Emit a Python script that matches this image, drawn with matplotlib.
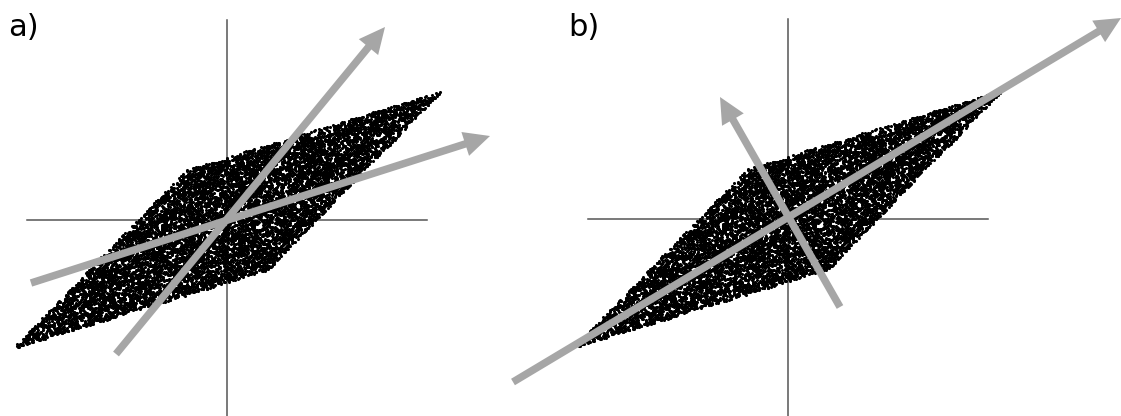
import numpy as np
import matplotlib
matplotlib.use("Agg")
import matplotlib.pyplot as plt

# two uniform sources mixed by a 2x2 matrix -> parallelogram cloud
n_points = 10000
mix_col1 = [0.87, 0.895]
mix_col2 = [1.28, 0.395]

# arrows (tail x, tail y, head x, head y), same units as the cloud
arrows_a = [[-1.11, -1.34, 1.58, 1.93],
            [-1.96, -0.63, 2.63, 0.84]]
arrows_b = [[-2.75, -1.63, 3.33, 2.01],
            [0.52, -0.88, -0.68, 1.22]]
panel_labels = ["a)", "b)"]

rng = np.random.default_rng(7)
s = rng.uniform(-1, 1, size=(2, n_points))
A = np.column_stack([mix_col1, mix_col2])
x = A @ s

W, H = 1121, 416
fig = plt.figure(figsize=(W / 100, H / 100), dpi=100)

gray = "#a6a6a6"
axis_col = "#555555"


def panel(left_px, cx_px, cy_px, arrows, label):
    ax = fig.add_axes([left_px / W, 0, 560 / W, 1])
    ax.set_xlim((left_px - cx_px) / 100, (left_px + 560 - cx_px) / 100)
    ax.set_ylim(-(H - cy_px) / 100, cy_px / 100)
    ax.axis("off")
    ax.plot([-2, 2], [0, 0], color=axis_col, lw=1.1, zorder=1)
    ax.plot([0, 0], [-2, 2], color=axis_col, lw=1.1, zorder=1)
    ax.scatter(x[0], x[1], s=5, c="black", marker="o", linewidths=0, zorder=2)
    for x0, y0, x1, y1 in arrows:
        ax.arrow(x0, y0, x1 - x0, y1 - y0, width=0.075, head_width=0.25,
                 head_length=0.26, length_includes_head=True, color=gray,
                 lw=0, zorder=3, clip_on=False)
    fig.text((left_px + 8) / W, 1 - 36 / H, label, fontsize=22,
             va="baseline", ha="left", color="black")


panel(0, 227, 220, arrows_a, panel_labels[0])
panel(560, 788, 219, arrows_b, panel_labels[1])

fig.savefig("out.png", dpi=100, facecolor="white")
